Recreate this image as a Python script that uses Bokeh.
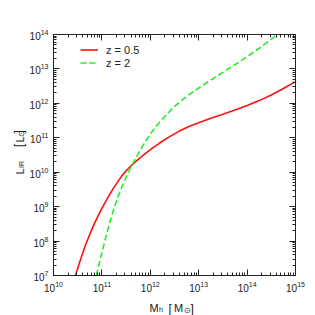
import numpy as np
from bokeh.plotting import figure
from bokeh.models import LogAxis, Label, Legend, LegendItem, LogTicker, Range1d, CustomJSTickFormatter
from bokeh.embed import file_html
from bokeh.resources import INLINE

# ---- data (log10 values) ----
logM_z05 = [10.455, 10.55, 10.65, 10.75, 10.85, 10.95, 11.05, 11.15, 11.25, 11.35,
            11.45, 11.55, 11.65, 11.75, 11.85, 11.95, 12.05, 12.2, 12.4, 12.6,
            12.8, 13.0, 13.25, 13.5, 13.75, 14.0, 14.25, 14.5, 14.75, 15.0]
logL_z05 = [7.0, 7.43, 7.84, 8.20, 8.52, 8.81, 9.08, 9.33, 9.56, 9.77,
            9.96, 10.115, 10.25, 10.375, 10.49, 10.60, 10.705, 10.855, 11.035, 11.195,
            11.33, 11.44, 11.565, 11.685, 11.81, 11.94, 12.08, 12.245, 12.43, 12.63]
logM_z2 = [10.885, 10.95, 11.05, 11.15, 11.25, 11.35, 11.45, 11.55, 11.65, 11.75,
           11.85, 11.95, 12.05, 12.15, 12.25, 12.35, 12.45, 12.55, 12.65, 12.75,
           12.85, 13.0, 13.2, 13.5, 13.85, 14.0, 14.25, 14.5, 14.62]
logL_z2 = [7.0, 7.38, 7.94, 8.48, 8.95, 9.35, 9.70, 10.00, 10.28, 10.54,
           10.78, 11.00, 11.20, 11.38, 11.545, 11.695, 11.84, 11.97, 12.09, 12.20,
           12.30, 12.445, 12.63, 12.90, 13.215, 13.355, 13.60, 13.86, 14.0]
labels = ["z = 0.5", "z = 2"]
colors = ["#ff1010", "#22ee22"]
x_lim = (1e10, 1e15)
y_lim = (1e7, 1e14)

FONT = "Liberation Sans"
INK = "#222222"

# page layout: the plot box spans x 53..295 px and y 34..275 px of a 315 px canvas
W = H = 315
BOX_L, BOX_R, BOX_T, BOX_B = 53, 295, 34, 275
lx0, lx1 = np.log10(x_lim)
ly0, ly1 = np.log10(y_lim)
ppx = (BOX_R - BOX_L) / (lx1 - lx0)
ppy = (BOX_B - BOX_T) / (ly1 - ly0)
xr = Range1d(10 ** (lx0 - BOX_L / ppx), 10 ** (lx1 + (W - BOX_R) / ppx))
yr = Range1d(10 ** (ly0 - (H - BOX_B) / ppy), 10 ** (ly1 + BOX_T / ppy))

p = figure(width=W, height=H, x_axis_type="log", y_axis_type="log",
           x_range=xr, y_range=yr, x_axis_location=None, y_axis_location=None,
           output_backend="svg", toolbar_location=None,
           min_border=0, min_border_left=0, min_border_right=0,
           min_border_top=0, min_border_bottom=0)
p.grid.visible = False
p.outline_line_color = None

def make_axis(loc, bounds, side, show_labels):
    ax = LogAxis(ticker=LogTicker(num_minor_ticks=10), fixed_location=loc, bounds=bounds)
    if not show_labels:
        ax.formatter = CustomJSTickFormatter(code="return ''")
    ax.axis_line_color = INK
    ax.major_tick_line_color = INK
    ax.minor_tick_line_color = INK
    ax.major_tick_in = 6
    ax.major_tick_out = 0
    ax.minor_tick_in = 3
    ax.minor_tick_out = 0
    ax.major_label_text_font = FONT
    ax.major_label_text_font_size = "10px"
    ax.major_label_text_color = INK
    p.add_layout(ax, side)
    return ax

bottom = make_axis(y_lim[0], x_lim, "below", True)
left = make_axis(x_lim[0], y_lim, "left", True)
make_axis(y_lim[1], x_lim, "above", False)
make_axis(x_lim[1], y_lim, "right", False)
bottom.major_label_standoff = 5
left.major_label_standoff = 5

M05 = 10 ** np.array(logM_z05)
L05 = 10 ** np.array(logL_z05)
M2 = 10 ** np.array(logM_z2)
L2 = 10 ** np.array(logL_z2)

r1 = p.line(M05, L05, line_color=colors[0], line_width=1.6)
r2 = p.line(M2, L2, line_color=colors[1], line_width=1.6, line_dash="6 3")

legend = Legend(items=[LegendItem(label=labels[0], renderers=[r1]),
                       LegendItem(label=labels[1], renderers=[r2])],
                location=(80, 246), glyph_width=18, glyph_height=13,
                label_standoff=8, padding=0, margin=0, spacing=0,
                label_text_font=FONT, label_text_font_size="11px",
                label_text_color=INK, label_height=13,
                border_line_color=None, background_fill_alpha=0)
p.add_layout(legend)

def lab(text, x, y, size, angle=0.0):
    # x, y: page pixels from the top-left corner (baseline-left anchor)
    p.add_layout(Label(x=x, y=H - y, x_units="screen", y_units="screen", text=text,
                       text_font=FONT, text_font_size=size, text_color=INK,
                       text_align="left", text_baseline="alphabetic", angle=angle))

# x axis label: M_h [M_sun]
lab("M", 149, 307, "11px")
lab("h", 158.5, 308.5, "7px")
lab("[", 168, 308, "12px")
lab("M", 173.5, 307, "11px")
lab("\u2299", 183, 309.5, "8px")
lab("]", 190, 308, "12px")

# y axis label (rotated): L_IR [L_sun]
a = np.pi / 2
lab("L", 19, 174, "11px", a)
lab("IR", 21, 167.5, "7px", a)
lab("[", 18, 146.5, "12px", a)
lab("L", 19, 142, "11px", a)
lab("\u2299", 21, 136.5, "8px", a)
lab("]", 18, 133, "12px", a)

open("out.html", "w").write(file_html(p, INLINE))
